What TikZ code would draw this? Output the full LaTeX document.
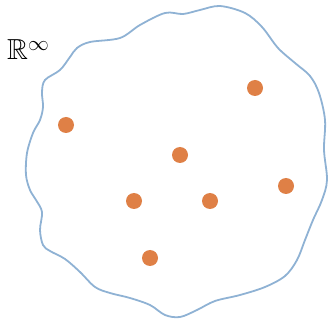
\documentclass[tikz,border=0pt]{standalone}
\usepackage{amssymb}
\definecolor{blobline}{RGB}{143,178,212}
\definecolor{ptorange}{RGB}{223,128,70}
\tikzset{
  pt/.style={circle,fill=ptorange,draw=none,inner sep=0pt,minimum size=16pt},
  blob/.style={draw=blobline,line width=1.8pt}
}
\begin{document}
\begin{tikzpicture}[x=1pt,y=-1pt]
\useasboundingbox (0,0) rectangle (329,320);
\draw[blob] plot[smooth cycle,tension=0.55] coordinates {
  (165,13) (183,14) (200,10) (220,6) (245,13) (262,27) (278,48) (295,63)
  (310,76) (319,93) (325,120) (324,150) (327,180) (322,200) (313,220)
  (305,240) (297,260) (285,276) (265,287) (240,295) (215,301) (197,310)
  (180,317) (165,315) (150,305) (130,298) (110,293) (95,287) (80,272)
  (65,259) (50,251) (43,245) (40,230) (42,212) (36,200) (30,190) (26,175)
  (27,153) (33,133) (40,120) (43,107) (42,92) (45,80) (60,70) (70,57)
  (77,48) (90,42) (120,38) (140,25)};
\node[pt] (p1) at (66,125) {};
\node[pt] (p2) at (255,88) {};
\node[pt] (p3) at (180,155) {};
\node[pt] (p4) at (134,201) {};
\node[pt] (p5) at (210,201) {};
\node[pt] (p6) at (286,186) {};
\node[pt] (p7) at (150,258) {};
\node[anchor=base west,inner sep=0pt,font=\fontsize{29}{30}\selectfont] (lbl) at (7,60) {$\mathbb{R}^\infty$};
\end{tikzpicture}
\end{document}
